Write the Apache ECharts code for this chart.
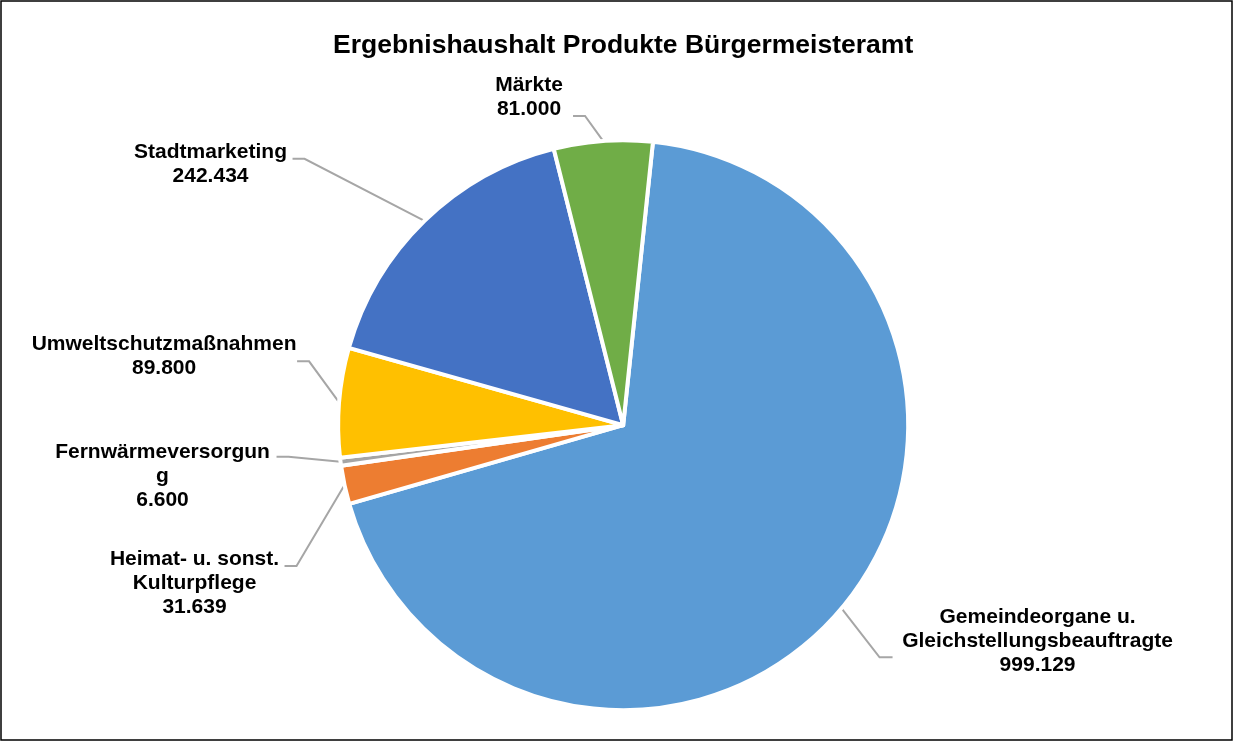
<!DOCTYPE html>
<html>
<head>
<meta charset="utf-8">
<title>Ergebnishaushalt Produkte Bürgermeisteramt</title>
<script src="https://cdn.jsdelivr.net/npm/echarts@6/dist/echarts.min.js"></script>
<style>
  html, body { margin: 0; padding: 0; background: #fff; }
  #chart { width: 1234px; height: 742px; }
</style>
</head>
<body>
<div id="chart"></div>
<script>
// Produkte, im Uhrzeigersinn ab oben (Reihenfolge wie im Original)
var categories = [
  'Gemeindeorgane u.\nGleichstellungsbeauftragte',
  'Heimat- u. sonst.\nKulturpflege',
  'Fernwärmeversorgun\ng',
  'Umweltschutzmaßnahmen',
  'Stadtmarketing',
  'Märkte'
]
var values = [999129, 31639, 6600, 89800, 242434, 81000]
var colors = ['#5B9BD5', '#ED7D31', '#A5A5A5', '#FFC000', '#4472C4', '#70AD47']

// labels were dragged by hand in the original -> offsets from the slice anchor on the rim
var labelShift = [[196, 33], [-150, 98], [-178, 14], [-175, -46], [-214, -57], [-74, -44]]
var lineEnd = [[51, 49], [-60, 81], [-64, -5], [-42, -41], [-132, -62], [-30, -25]]

var font = '"Liberation Sans", Arial, sans-serif'

function fmt(v) {
  return String(v).replace(/\B(?=(\d{3})+(?!\d))/g, '.')
}

var chart = echarts.init(document.getElementById('chart'))

chart.setOption({
  backgroundColor: '#fff',
  animation: false,
  title: {
    text: 'Ergebnishaushalt Produkte Bürgermeisteramt',
    left: 328,
    top: 27,
    textStyle: {
      fontFamily: font,
      fontSize: 26.5,
      fontWeight: 'bold',
      color: '#000'
    }
  },
  // chart area frame
  graphic: [{
    type: 'rect',
    silent: true,
    shape: { x: 1, y: 1, width: 1231, height: 739 },
    style: { fill: 'none', stroke: '#000', lineWidth: 1.5 }
  }],
  series: [{
    type: 'pie',
    center: ['50.5%', '57.3%'],
    radius: 285,
    startAngle: 84,
    clockwise: true,
    avoidLabelOverlap: false,
    emphasis: { disabled: true },
    itemStyle: {
      borderColor: '#fff',
      borderWidth: 4
    },
    label: {
      show: true,
      position: 'outside',
      color: '#000',
      fontFamily: font,
      fontSize: 21,
      fontWeight: 'bold',
      lineHeight: 24,
      formatter: function (p) {
        return p.name + '\n' + fmt(p.value)
      }
    },
    labelLine: {
      show: true,
      lineStyle: { color: '#A6A6A6', width: 2 }
    },
    labelLayout: function (params) {
      var i = params.dataIndex
      var p0 = params.labelLinePoints[0]
      var end = [p0[0] + lineEnd[i][0], p0[1] + lineEnd[i][1]]
      var elbow = [end[0] + (lineEnd[i][0] > 0 ? -13 : 12), end[1]]
      return {
        x: p0[0] + labelShift[i][0],
        y: p0[1] + labelShift[i][1],
        align: 'center',
        verticalAlign: 'middle',
        labelLinePoints: [p0, elbow, end]
      }
    },
    data: categories.map(function (name, i) {
      return { name: name, value: values[i], itemStyle: { color: colors[i] } }
    })
  }]
})
</script>
</body>
</html>
